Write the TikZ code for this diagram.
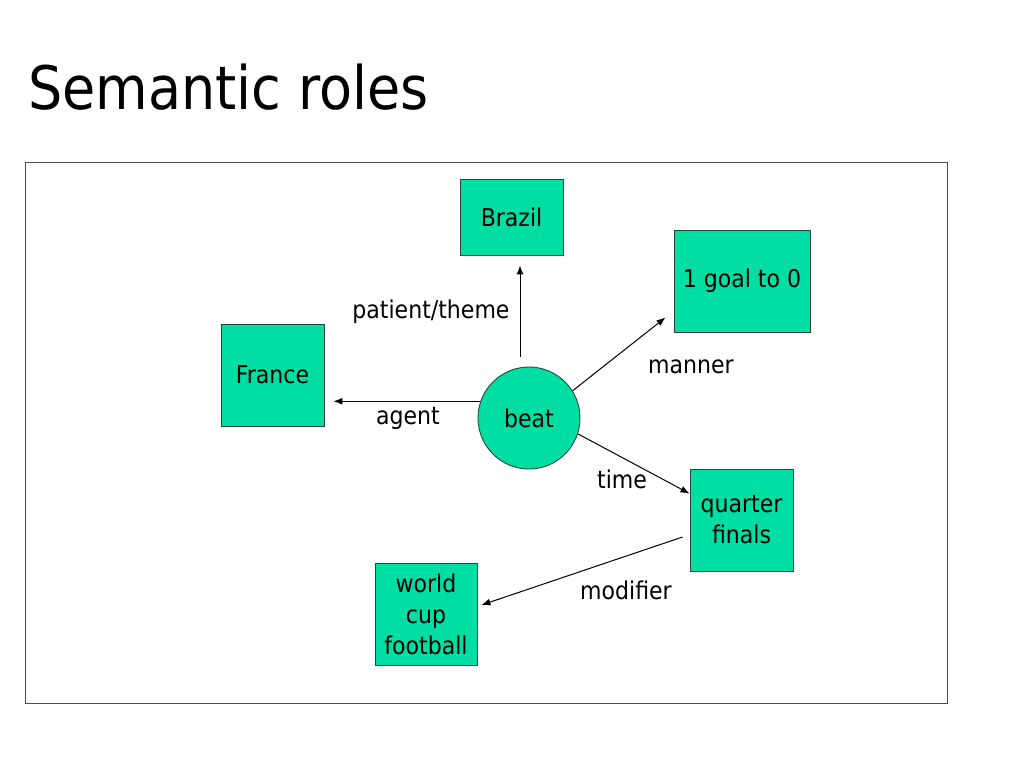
\documentclass[tikz,border=0pt]{standalone}
\usepackage{fontspec}
\setmainfont{DejaVu Sans Condensed}
\usetikzlibrary{arrows.meta,calc}
\definecolor{boxfill}{RGB}{0,222,164}
\definecolor{boxline}{RGB}{40,70,60}
\tikzset{
  box/.style={draw=boxline,line width=0.9pt,fill=boxfill,minimum width=103pt,minimum height=102pt,inner sep=0pt,align=center,font=\fontsize{24.5}{31}\selectfont},
  circ/.style={draw=boxline,line width=0.9pt,fill=boxfill,circle,minimum size=102pt,inner sep=0pt,font=\fontsize{24.5}{31}\selectfont},
  lbl/.style={font=\fontsize{24.5}{31}\selectfont,inner sep=0pt},
  arr/.style={line width=1pt,-{Latex[length=9pt,width=7pt]}}
}
\begin{document}
\begin{tikzpicture}[x=1pt,y=-1pt]
\useasboundingbox (0,0) rectangle (1024,768);
\node[anchor=base west,inner sep=0pt,font=\fontsize{60}{66}\selectfont] (title) at (28,109) {Semantic roles};
\node[draw=black!70,line width=0.8pt,minimum width=922pt,minimum height=541pt,inner sep=0pt] (frame) at (486,432.5) {};
\node[box,minimum height=76pt] (brazil) at (511.5,217) {Brazil};
\node[box,minimum width=136pt] (goal) at (742,281) {1 goal to 0};
\node[box] (france) at (272.5,375) {France};
\node[circ] (beat) at (529,418) {beat};
\node[box] (quarter) at (741.5,520) {quarter\\finals};
\node[box,minimum width=102pt] (world) at (426,614) {world\\cup\\football};
\draw[arr] ([xshift=-9pt,yshift=10pt]beat.north) -- ([xshift=8.5pt,yshift=-10pt]brazil.south);
\draw[arr] (beat.161) -- ([xshift=9pt]france.east |- beat.161);
\draw[arr] (beat.32) -- ([xshift=-8pt,yshift=15pt]goal.south west);
\draw[arr] (beat.-18) -- ([yshift=-25pt]quarter.north west);
\draw[arr] ([xshift=-7pt,yshift=-17pt]quarter.west) -- ([xshift=4pt,yshift=9pt]world.east);
\node[lbl] (lpt) at (431,312) {patient/theme};
\node[lbl] (lag) at (408,418) {agent};
\node[lbl] (lma) at (691,367) {manner};
\node[lbl] (lti) at (622,479) {time};
\node[lbl] (lmo) at (626,590) {modifier};
\end{tikzpicture}
\end{document}
